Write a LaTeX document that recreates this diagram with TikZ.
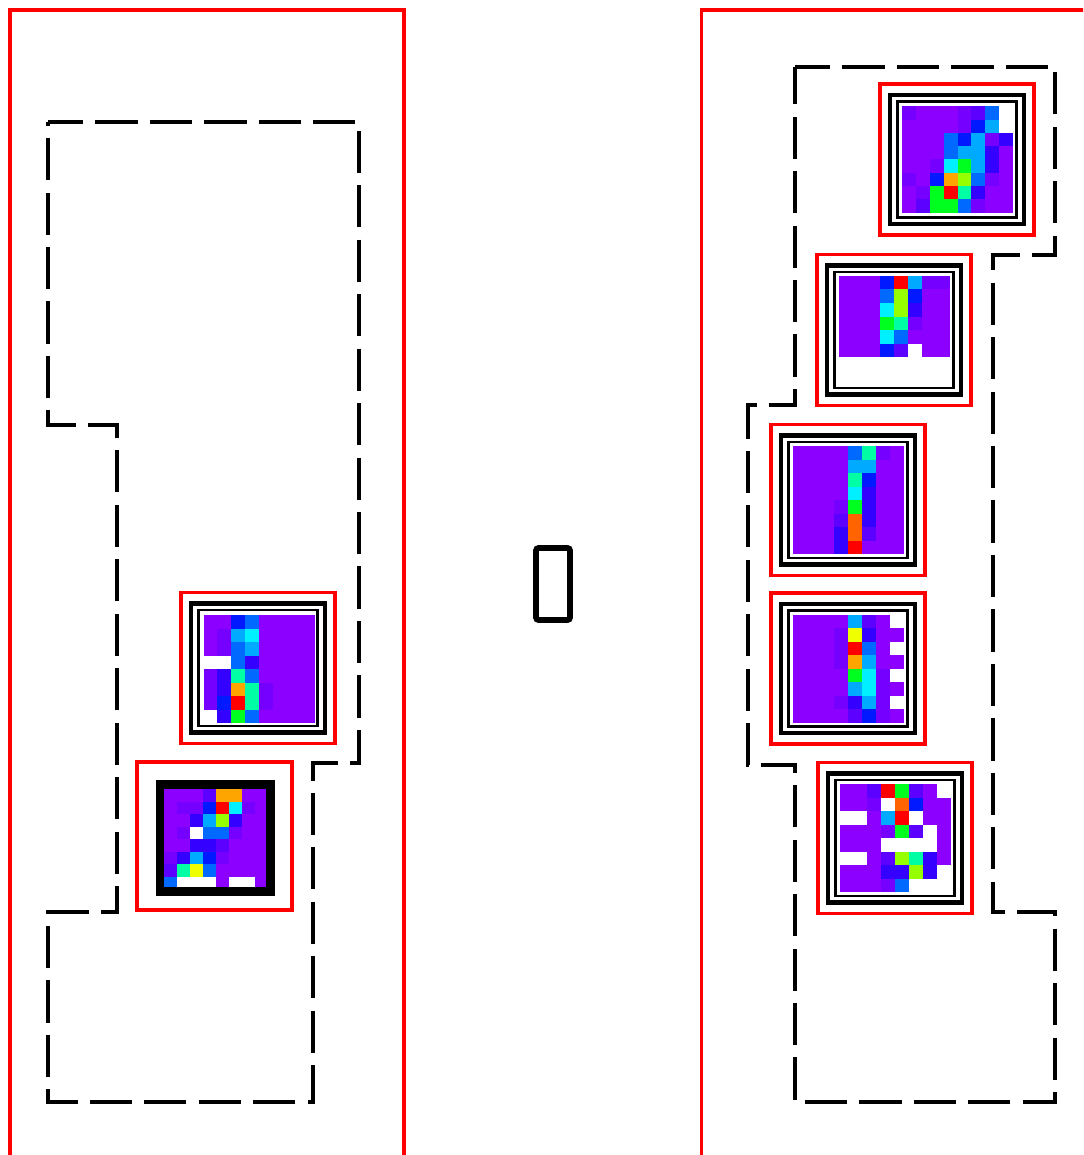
\documentclass[tikz,border=0pt]{standalone}
\usepackage{tikz}
\usetikzlibrary{calc}
\usepackage{xcolor}
% cell colours of the maps
\definecolor{hP}{RGB}{140,0,255}
\definecolor{hQ}{RGB}{118,0,255}
\definecolor{hV}{RGB}{92,0,255}
\definecolor{hU}{RGB}{52,0,255}
\definecolor{hB}{RGB}{0,25,255}
\definecolor{hD}{RGB}{0,105,255}
\definecolor{hC}{RGB}{0,170,255}
\definecolor{hK}{RGB}{0,240,255}
\definecolor{hT}{RGB}{0,255,165}
\definecolor{hG}{RGB}{0,255,30}
\definecolor{hL}{RGB}{150,255,0}
\definecolor{hE}{RGB}{240,255,0}
\definecolor{hO}{RGB}{255,165,0}
\definecolor{hN}{RGB}{255,100,0}
\definecolor{hR}{RGB}{255,0,0}
\definecolor{hW}{RGB}{255,255,255}
\tikzset{
  redbox/.style={draw=red, line width=1.9pt},
  zone/.style={line width=2.8pt, dash pattern=on 24pt off 7pt, dash phase=4pt},
  frameout/.style={line width=2.3pt},
  framein/.style={line width=1.6pt},
  framethick/.style={line width=4.8pt},
  gapbox/.style={line width=3.3pt, rounded corners=1.5pt},
}
% map: centre x, centre y, width, height, rows of cells
\newcommand{\hmap}[5]{%
  \foreach \row [count=\rr] in {#5}{
    \foreach \hc [count=\kk] in \row{
      \fill[\hc] ({#1-#3/2+(\kk-1)*#3/8},{#2-#4/2+(\rr-1)*#4/8}) rectangle ++({#3/8+0.4},{#4/8+0.4});
    }
  }
}
% red box and double frame round a map
\newcommand{\hpanel}[2]{%
  \draw[redbox] ({#1-77},{#2-75.5}) rectangle ({#1+77},{#2+75.5});
  \draw[frameout] ({#1-67},{#2-64.5}) rectangle ({#1+67},{#2+64.5});
  \draw[framein] ({#1-59.5},{#2-58}) rectangle ({#1+59.5},{#2+58});
}

\begin{document}
\begin{tikzpicture}[x=0.02cm,y=-0.02cm]
  \clip (0,0) rectangle (1083,1155);
  \fill[white] (0,0) rectangle (1083,1155);

  % --- left side ---
  \draw[redbox] (10,10) rectangle (404,1170);
  \draw[zone] (48,122) -- (359,122) -- (359,763) -- (313,763) -- (313,1102)
    -- (48,1102) -- (48,912) -- (117,912) -- (117,425) -- (48,425) -- cycle;

  \hmap{259}{669}{111}{108}{
    {hP,hP,hB,hD,hP,hP,hP,hP},
    {hP,hQ,hC,hK,hP,hP,hP,hP},
    {hP,hQ,hD,hC,hP,hP,hP,hP},
    {hW,hW,hD,hU,hP,hP,hP,hP},
    {hQ,hU,hT,hD,hP,hP,hP,hP},
    {hQ,hU,hO,hT,hQ,hP,hP,hP},
    {hQ,hB,hR,hT,hQ,hP,hP,hP},
    {hW,hU,hG,hD,hP,hP,hP,hP}}
  \hpanel{258}{668}

  \hmap{216}{839}{104}{100}{
    {hP,hP,hP,hV,hO,hO,hP,hP},
    {hP,hQ,hQ,hB,hR,hK,hQ,hP},
    {hP,hP,hU,hC,hL,hU,hP,hP},
    {hP,hQ,hW,hD,hD,hQ,hP,hP},
    {hP,hP,hU,hU,hV,hP,hP,hP},
    {hQ,hU,hC,hB,hQ,hP,hP,hP},
    {hV,hT,hE,hD,hP,hP,hP,hP},
    {hD,hW,hW,hW,hP,hW,hW,hP}}
  \draw[redbox] (137,762) rectangle (292,910);
  \draw[framethick] (160,784.5) rectangle (270.5,891.5);

  % --- middle ---
  \draw[gapbox] (536,548) rectangle (570,620);

  % --- right side ---
  \draw[redbox] (701.7,10) rectangle (1100,1170);
  \draw[zone] (795,67) -- (1055,67) -- (1055,255) -- (993,255) -- (993,912)
    -- (1055,912) -- (1055,1102) -- (795,1102) -- (795,765) -- (748,765)
    -- (748,405) -- (795,405) -- cycle;

  \hmap{957.5}{159.5}{111}{106}{
    {hQ,hP,hP,hP,hQ,hV,hD,hW},
    {hP,hP,hP,hP,hQ,hB,hC,hW},
    {hP,hP,hP,hD,hB,hC,hQ,hU},
    {hP,hP,hP,hD,hC,hC,hU,hP},
    {hP,hP,hQ,hK,hG,hC,hU,hP},
    {hQ,hP,hB,hO,hL,hD,hQ,hP},
    {hP,hQ,hG,hR,hT,hU,hP,hP},
    {hP,hV,hG,hG,hD,hQ,hP,hP}}
  \hpanel{957}{159.5}

  \hmap{894}{330}{111}{108}{
    {hP,hP,hP,hB,hR,hC,hQ,hQ},
    {hP,hP,hP,hD,hL,hB,hP,hP},
    {hP,hP,hP,hK,hL,hU,hP,hP},
    {hP,hP,hP,hG,hT,hQ,hP,hP},
    {hP,hP,hP,hK,hD,hP,hP,hP},
    {hP,hP,hP,hB,hV,hW,hP,hP},
    {hW,hW,hW,hW,hW,hW,hW,hW},
    {hW,hW,hW,hW,hW,hW,hW,hW}}
  \hpanel{894}{330}

  \hmap{848}{500}{111}{108}{
    {hP,hP,hP,hP,hD,hT,hQ,hP},
    {hP,hP,hP,hP,hC,hC,hP,hP},
    {hP,hP,hP,hP,hT,hB,hP,hP},
    {hP,hP,hP,hP,hK,hU,hP,hP},
    {hP,hP,hP,hQ,hG,hU,hP,hP},
    {hP,hP,hP,hV,hN,hU,hP,hP},
    {hP,hP,hP,hU,hN,hV,hP,hP},
    {hP,hP,hP,hU,hR,hP,hP,hP}}
  \hpanel{848}{500}

  \hmap{848}{668.5}{111}{108}{
    {hP,hP,hP,hP,hC,hV,hP,hW},
    {hP,hP,hP,hQ,hE,hU,hP,hP},
    {hP,hP,hP,hQ,hR,hD,hP,hW},
    {hP,hP,hP,hQ,hO,hC,hP,hP},
    {hP,hP,hP,hP,hG,hK,hQ,hW},
    {hP,hP,hP,hP,hC,hK,hQ,hP},
    {hP,hP,hP,hQ,hU,hC,hQ,hW},
    {hP,hP,hP,hP,hV,hB,hQ,hP}}
  \hpanel{848}{668.5}

  \hmap{895}{838}{111}{108}{
    {hP,hP,hV,hR,hG,hV,hP,hW},
    {hP,hP,hQ,hW,hN,hB,hP,hP},
    {hW,hW,hP,hC,hR,hW,hP,hP},
    {hP,hP,hP,hQ,hG,hV,hW,hP},
    {hP,hP,hP,hW,hW,hW,hW,hP},
    {hW,hW,hP,hV,hL,hT,hU,hP},
    {hP,hP,hP,hU,hU,hL,hU,hW},
    {hP,hP,hP,hQ,hD,hW,hW,hW}}
  \hpanel{895}{838}
\end{tikzpicture}
\end{document}
